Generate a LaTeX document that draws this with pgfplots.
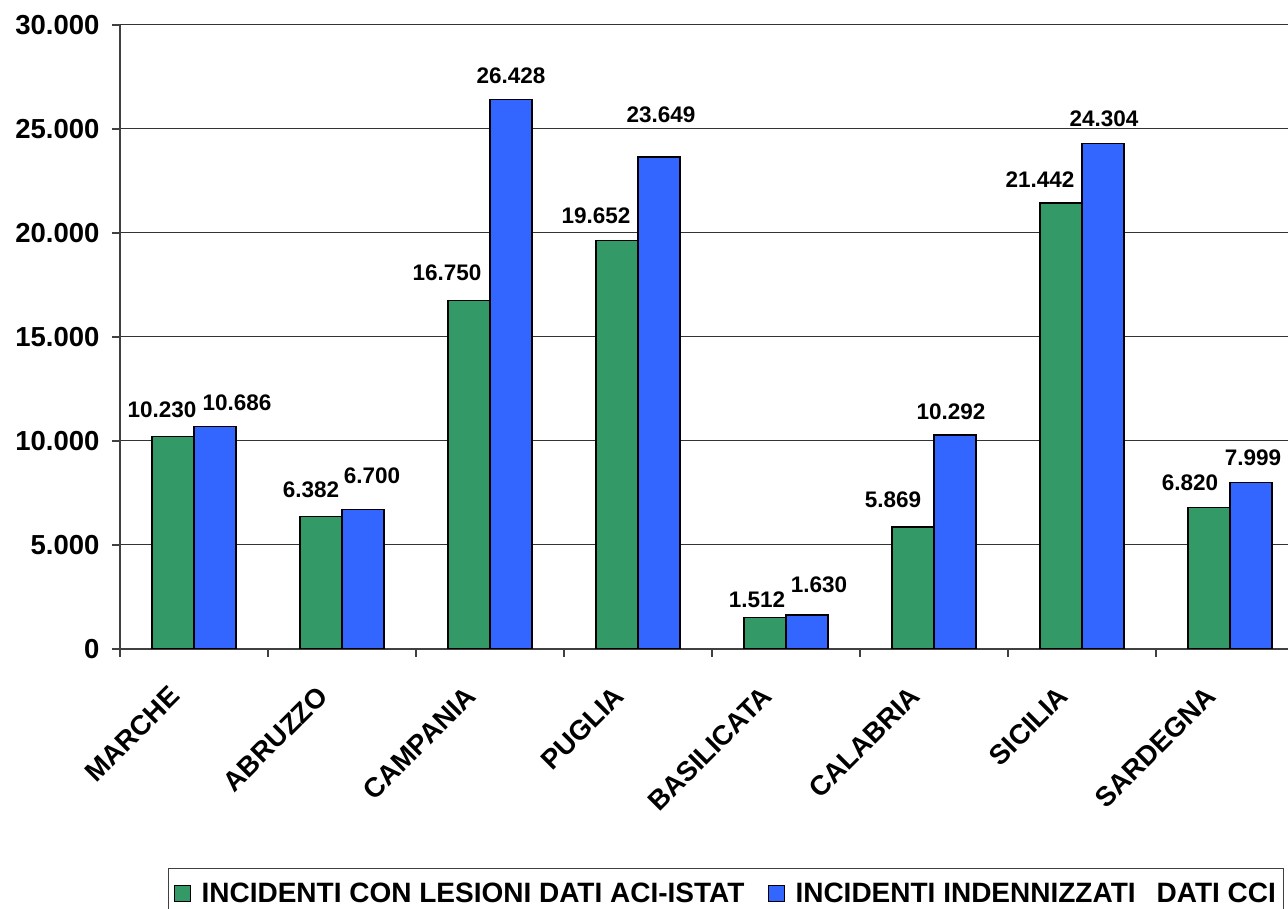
\documentclass[border=0pt]{standalone}
\usepackage{pgfplots}
\usepackage{pgfplotstable}
\usepackage{fontspec}
\setmainfont{Liberation Sans}
\pgfplotsset{compat=1.18}

\definecolor{aciverde}{HTML}{339966}
\definecolor{ccblu}{HTML}{3366FF}

% x: category index; g/b: values; dx/dy: label offset from bar top (px)
\pgfplotstableread{
x g     gdx gdy b     bdx bdy
0 10230 -11 26  10686  22 24
1 6382  -10 26  6700    9 34
2 16750 -22 28  26428   0 24
3 19652 -21 24  23649   2 42
4 1512   -8 18  1630   12 30
5 5869  -20 27  10292  -4 23
6 21442 -21 23  24304   1 25
7 6820  -19 24  7999    2 25
}\dati

\begin{document}
\begin{tikzpicture}
\useasboundingbox (0,0) rectangle (1288pt,909pt);
\begin{axis}[
  at={(120pt,260pt)}, anchor=south west,
  scale only axis,
  width=1184pt, height=624pt,
  xmin=-0.5, xmax=7.5,
  ymin=0, ymax=30000,
  ybar=0pt, bar width=42pt,
  axis x line*=bottom, axis y line*=left,
  axis line style={draw=black!75, line width=1.2pt, -},
  ytick={0,5000,...,30000},
  scaled y ticks=false,
  ymajorgrids=true,
  grid style={draw=black!80, line width=1pt},
  tick align=outside,
  major tick length=8pt,
  minor tick length=8pt,
  tick style={draw=black!75, line width=1.2pt},
  xtick={0,...,7},
  major x tick style={draw=none},
  minor xtick={-0.5,0.5,...,7.5},
  xticklabels={MARCHE,ABRUZZO,CAMPANIA,PUGLIA,BASILICATA,CALABRIA,SICILIA,SARDEGNA},
  xticklabel style={rotate=45, anchor=east, xshift=-34pt, yshift=-11pt,
    font=\fontsize{27.5}{30}\selectfont\bfseries},
  yticklabel style={font=\fontsize{27.5}{30}\selectfont\bfseries, xshift=-9pt},
  /pgf/number format/.cd, 1000 sep={.}, assume math mode=true,
  /pgfplots/.cd,
  nodes near coords={\pgfmathprintnumber[fixed,precision=0]{\pgfplotspointmeta}},
  nodes near coords style={font=\fontsize{22.5}{25}\selectfont\bfseries},
  legend columns=2,
  legend style={at={(axis description cs:0.0405,-0.351)}, anchor=north west,
    draw=black!75, line width=1pt,
    font=\fontsize{28}{30}\selectfont\bfseries,
    inner xsep=6pt, inner ysep=12pt,
    /tikz/every even column/.append style={column sep=22pt}},
  legend image code/.code={\draw[#1, draw=black, line width=1pt] (0pt,-8pt) rectangle (16pt,8pt); \path (24pt,0pt);},
]
\addplot[fill=aciverde, draw=black, line width=1.2pt,
  visualization depends on={\thisrow{gdx}\as\dx},
  visualization depends on={\thisrow{gdy}\as\dy},
  every node near coord/.append style={anchor=center, xshift=\dx, yshift=\dy}]
  table[x=x, y=g] {\dati};
\addplot[fill=ccblu, draw=black, line width=1.2pt,
  visualization depends on={\thisrow{bdx}\as\dx},
  visualization depends on={\thisrow{bdy}\as\dy},
  every node near coord/.append style={anchor=center, xshift=\dx, yshift=\dy}]
  table[x=x, y=b] {\dati};
\legend{INCIDENTI CON LESIONI DATI ACI-ISTAT, INCIDENTI INDENNIZZATI\hspace{21pt}DATI CCI\hspace{40pt}}
\end{axis}
\end{tikzpicture}
\end{document}
